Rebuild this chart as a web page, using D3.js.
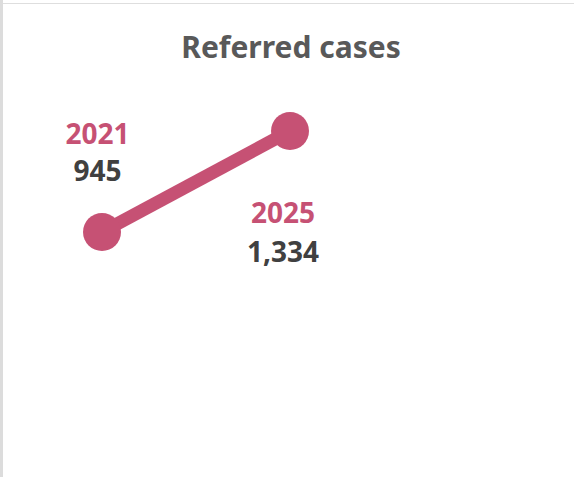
<!DOCTYPE html>
<html>
<head>
<meta charset="utf-8">
<script src="https://cdn.jsdelivr.net/npm/d3@7"></script>
<style>
  body { margin: 0; background: #fff; }
  svg { display: block; }
</style>
</head>
<body>
<svg id="chart" width="574" height="477"></svg>
<script>
// data
var years = [2021, 2025];
var values = [945, 1334];
var title = "Referred cases";

var pink = "#c65174";
var font = "'Noto Sans', 'Open Sans', sans-serif";

var svg = d3.select("#chart");

// frame edges seen in the picture
svg.append("rect").attr("x", 0).attr("y", 0).attr("width", 3).attr("height", 477).attr("fill", "#dcdcdc");
svg.append("line").attr("x1", 3).attr("x2", 574).attr("y1", 3.5).attr("y2", 3.5)
  .attr("stroke", "#dedede").attr("stroke-width", 1);

svg.append("text")
  .attr("x", 291).attr("y", 58)
  .attr("text-anchor", "middle")
  .attr("font-family", font).attr("font-weight", "bold").attr("font-size", 30)
  .attr("fill", "#595959")
  .text(title);

var x = d3.scaleLinear().domain(d3.extent(years)).range([102, 290]);
var y = d3.scaleLinear().domain(d3.extent(values)).range([232, 131]);

var pts = years.map(function(yr, i){ return {year: yr, value: values[i]}; });

svg.append("path")
  .datum(pts)
  .attr("d", d3.line().x(function(d){ return x(d.year); }).y(function(d){ return y(d.value); }))
  .attr("fill", "none")
  .attr("stroke", pink)
  .attr("stroke-width", 13);

svg.selectAll("circle.pt").data(pts).enter().append("circle")
  .attr("class", "pt")
  .attr("cx", function(d){ return x(d.year); })
  .attr("cy", function(d){ return y(d.value); })
  .attr("r", 19)
  .attr("fill", pink);

// labels: first point above, last point below
var offs = [{dx: -4.5, dy1: -88, dy2: -51}, {dx: -7, dy1: 92, dy2: 131}];
var fmt = d3.format(",");

pts.forEach(function(d, i){
  var o = offs[i];
  svg.append("text")
    .attr("x", x(d.year) + o.dx).attr("y", y(d.value) + o.dy1)
    .attr("text-anchor", "middle")
    .attr("font-family", font).attr("font-weight", "bold").attr("font-size", 28)
    .attr("fill", pink)
    .text(d.year);
  svg.append("text")
    .attr("x", x(d.year) + o.dx).attr("y", y(d.value) + o.dy2)
    .attr("text-anchor", "middle")
    .attr("font-family", font).attr("font-weight", "bold").attr("font-size", 28)
    .attr("fill", "#404040")
    .text(fmt(d.value));
});
</script>
</body>
</html>
